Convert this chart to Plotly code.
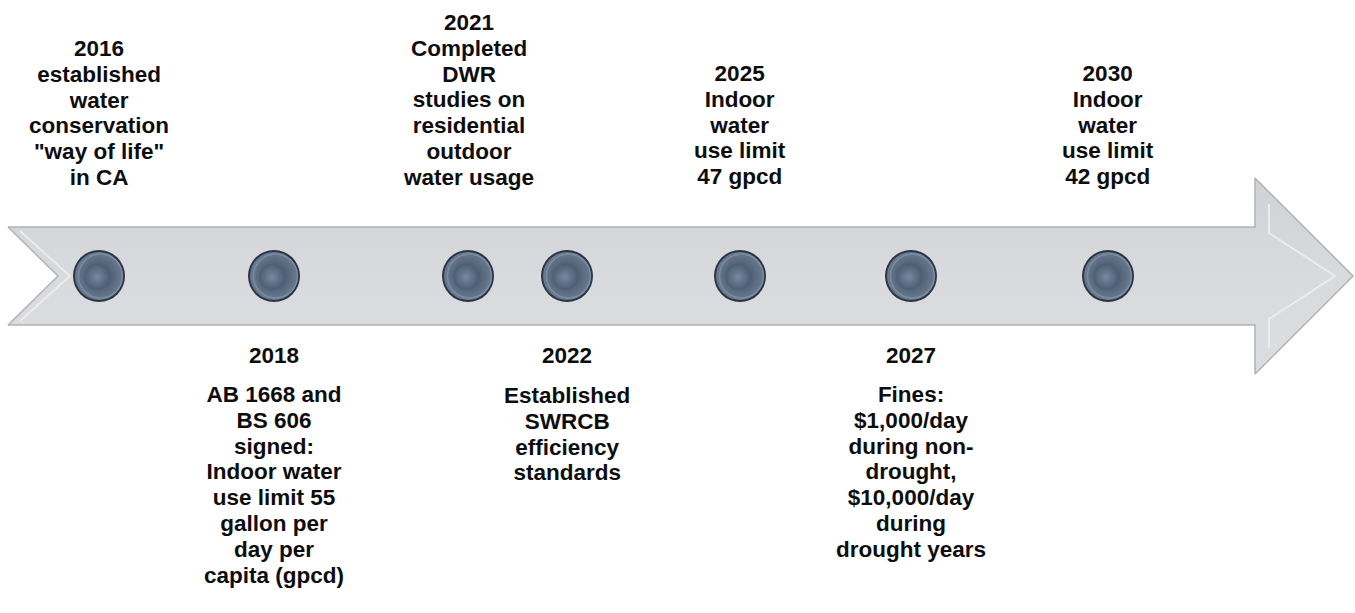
import plotly.graph_objects as go

# Milestones along the timeline
years = ["2016", "2018", "2021", "2022", "2025", "2027", "2030"]
milestone_x = [99, 274, 468, 567, 740, 911, 1108]
sides = ["above", "below", "above", "below", "above", "below", "above"]
descriptions = [
    ["established", "water", "conservation", "\"way of life\"", "in CA"],
    ["AB 1668 and", "BS 606", "signed:", "Indoor water", "use limit 55",
     "gallon per", "day per", "capita (gpcd)"],
    ["Completed", "DWR", "studies on", "residential", "outdoor", "water usage"],
    ["Established", "SWRCB", "efficiency", "standards"],
    ["Indoor", "water", "use limit", "47 gpcd"],
    ["Fines:", "$1,000/day", "during non-", "drought,", "$10,000/day",
     "during", "drought years"],
    ["Indoor", "water", "use limit", "42 gpcd"],
]

W, H = 1355, 613
AXIS_Y = 276          # centre line of the arrow
BODY_HALF = 49        # half height of the arrow shaft
HEAD_HALF = 98        # half height of the arrow head
TAIL_X, NOTCH_X = 8, 58
HEAD_X, TIP_X = 1255, 1353

LINE_H = 25.8                 # distance between text lines
FONT = "'Liberation Sans', Arial, sans-serif"
GLYPH_SIZE = 22.5             # size of the drawn glyphs
BASE_SIZE = LINE_H / 1.3      # plotly spaces lines at 1.3 x the base font size

fig = go.Figure()

# Arrow body (notched tail, pointed head)
ax = [TAIL_X, HEAD_X, HEAD_X, TIP_X, HEAD_X, HEAD_X, TAIL_X, NOTCH_X, TAIL_X]
ay = [AXIS_Y - BODY_HALF, AXIS_Y - BODY_HALF, AXIS_Y - HEAD_HALF, AXIS_Y,
      AXIS_Y + HEAD_HALF, AXIS_Y + BODY_HALF, AXIS_Y + BODY_HALF, AXIS_Y,
      AXIS_Y - BODY_HALF]
fig.add_trace(go.Scatter(
    x=ax, y=ay, mode="lines", fill="toself",
    fillgradient=dict(type="vertical",
                      colorscale=[[0, "#dcdde0"], [0.5, "#d9dadd"], [1, "#d0d1d4"]]),
    line=dict(color="#b2b3b5", width=1.5),
    hoverinfo="skip", showlegend=False))

# Soft bevel highlights on the head and the tail notch
bevel = "rgba(240,240,242,0.8)"
fig.add_trace(go.Scatter(
    x=[HEAD_X + 14, HEAD_X + 14, TIP_X - 18, HEAD_X + 14, HEAD_X + 14],
    y=[AXIS_Y - HEAD_HALF + 26, AXIS_Y - BODY_HALF + 6, AXIS_Y,
       AXIS_Y + BODY_HALF - 6, AXIS_Y + HEAD_HALF - 26],
    mode="lines", line=dict(color=bevel, width=2),
    hoverinfo="skip", showlegend=False))
fig.add_trace(go.Scatter(
    x=[TAIL_X + 12, NOTCH_X + 12, TAIL_X + 12],
    y=[AXIS_Y - BODY_HALF + 4, AXIS_Y, AXIS_Y + BODY_HALF - 4],
    mode="lines", line=dict(color=bevel, width=2),
    hoverinfo="skip", showlegend=False))

# Milestone buttons: dark rim, shaded face, inner dimple
cy = [AXIS_Y] * len(years)
fig.add_trace(go.Scatter(
    x=milestone_x, y=cy, mode="markers",
    marker=dict(size=52, color="#2b3543", line=dict(width=0)),
    hoverinfo="skip", showlegend=False))
fig.add_trace(go.Scatter(
    x=milestone_x, y=cy, mode="markers",
    marker=dict(size=48, color="#6a7b92",
                gradient=dict(type="radial", color="#3b4759"),
                line=dict(width=0)),
    hoverinfo="skip", showlegend=False))
fig.add_trace(go.Scatter(
    x=[v + 1.5 for v in milestone_x], y=cy, mode="markers",
    marker=dict(size=44, color="rgba(0,0,0,0)",
                line=dict(width=1.5, color="rgba(170,185,200,0.35)")),
    hoverinfo="skip", showlegend=False))
fig.add_trace(go.Scatter(
    x=[v - 2 for v in milestone_x], y=[AXIS_Y + 1] * len(years), mode="markers",
    marker=dict(size=26, color="#4d5d72",
                gradient=dict(type="radial", color="#7788a0"),
                line=dict(width=0)),
    hoverinfo="skip", showlegend=False))


def block_text(lines):
    return "<br>".join(
        f"<span style='font-size:{GLYPH_SIZE}px'><b>{s}</b></span>" for s in lines)


def add_block(x, first_line_y, lines):
    # centre of the block, given the centre of its first line
    mid = first_line_y + (len(lines) - 1) * LINE_H / 2
    fig.add_annotation(
        x=x, y=mid, xref="x", yref="y", showarrow=False,
        text=block_text(lines), align="center",
        xanchor="center", yanchor="middle",
        font=dict(family=FONT, size=BASE_SIZE, color="#0d0d0d"))


# Labels: year line plus description lines, stacked above or below the arrow
for x, yr, side, lines in zip(milestone_x, years, sides, descriptions):
    if side == "above":
        block = [yr] + lines
        add_block(x, 177 - (len(block) - 1) * LINE_H, block)
    else:
        add_block(x, 355, [yr])
        add_block(x, 395, lines)

fig.update_layout(
    width=W, height=H,
    margin=dict(l=0, r=0, t=0, b=0),
    paper_bgcolor="white", plot_bgcolor="white",
    xaxis=dict(range=[0, W], visible=False, fixedrange=True),
    yaxis=dict(range=[H, 0], visible=False, fixedrange=True),
    showlegend=False,
)

fig.write_html("out.html", config={"displayModeBar": False})
